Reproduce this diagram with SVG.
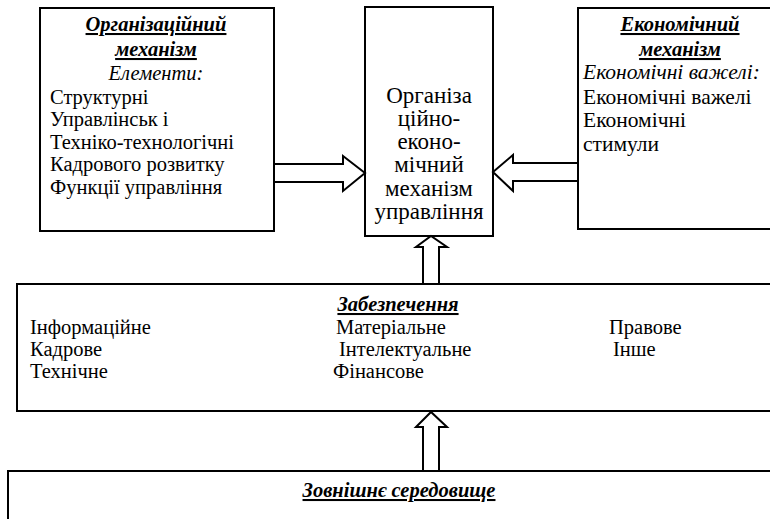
<svg xmlns="http://www.w3.org/2000/svg" width="770" height="519" viewBox="0 0 770 519">
<style>
.box{fill:#fff;stroke:#000;stroke-width:2}
.t{font-family:"Liberation Serif","DejaVu Serif","Noto Serif",serif;font-size:20.5px;fill:#000}
.h{font-weight:bold;font-style:italic;text-decoration:underline}
.i{font-style:italic}
.c{text-anchor:middle}
.m{font-size:23px}
.r{font-size:21.5px}
.arr{fill:#fff;stroke:#000;stroke-width:2;stroke-linejoin:miter}
</style>
<rect width="770" height="519" fill="#fff"/>
<g id="org">
<rect class="box" x="40" y="8" width="234" height="223"/>
<text class="t h c" x="156" y="31">Організаційний</text>
<text class="t h c" x="156" y="56">механізм</text>
<text class="t i c" x="156" y="80">Елементи:</text>
<text class="t" x="50" y="104">Структурні</text>
<text class="t" x="50" y="126">Управлінськ і</text>
<text class="t" x="50" y="149">Техніко-технологічні</text>
<text class="t" x="50" y="171">Кадрового розвитку</text>
<text class="t" x="50" y="194">Функції управління</text>
</g>
<g id="center">
<rect class="box" x="365" y="7" width="128" height="229"/>
<text class="t m c" x="429" y="103">Організа</text>
<text class="t m c" x="429" y="126">ційно-</text>
<text class="t m c" x="429" y="149">еконо-</text>
<text class="t m c" x="429" y="172">мічний</text>
<text class="t m c" x="429" y="196">механізм</text>
<text class="t m c" x="429" y="219">управління</text>
</g>
<g id="econ">
<rect class="box" x="578" y="8" width="200" height="221"/>
<text class="t h c" x="680" y="31">Економічний</text>
<text class="t h c" x="680" y="56">механізм</text>
<text class="t i r" x="583" y="79">Економічні важелі:</text>
<text class="t r" x="583" y="104">Економічні важелі</text>
<text class="t r" x="583" y="127">Економічні</text>
<text class="t r" x="583" y="151">стимули</text>
</g>
<g id="support">
<rect class="box" x="17" y="284" width="761" height="127"/>
<text class="t h c" x="398" y="311">Забезпечення</text>
<text class="t" x="30" y="334">Інформаційне</text>
<text class="t" x="30" y="356">Кадрове</text>
<text class="t" x="30" y="378">Технічне</text>
<text class="t" x="336" y="334">Матеріальне</text>
<text class="t" x="339" y="356">Інтелектуальне</text>
<text class="t" x="333" y="378">Фінансове</text>
<text class="t" x="609" y="334">Правове</text>
<text class="t" x="613" y="356">Інше</text>
</g>
<g id="env">
<rect class="box" x="8" y="471" width="770" height="60"/>
<text class="t h c" x="399" y="497">Зовнішнє середовище</text>
</g>
<g id="connectors">
<polygon class="arr" points="274,164 343,164 343,156 365,173 343,191 343,182 274,182"/>
<polygon class="arr" points="578,163 513,163 513,155 493,172 513,191 513,181 578,181"/>
<polygon class="arr" points="423,284 423,247 416,247 431,236 447,247 439,247 439,284"/>
<polygon class="arr" points="423,471 423,427 416,427 431,412 447,427 439,427 439,471"/>
</g>
</svg>
